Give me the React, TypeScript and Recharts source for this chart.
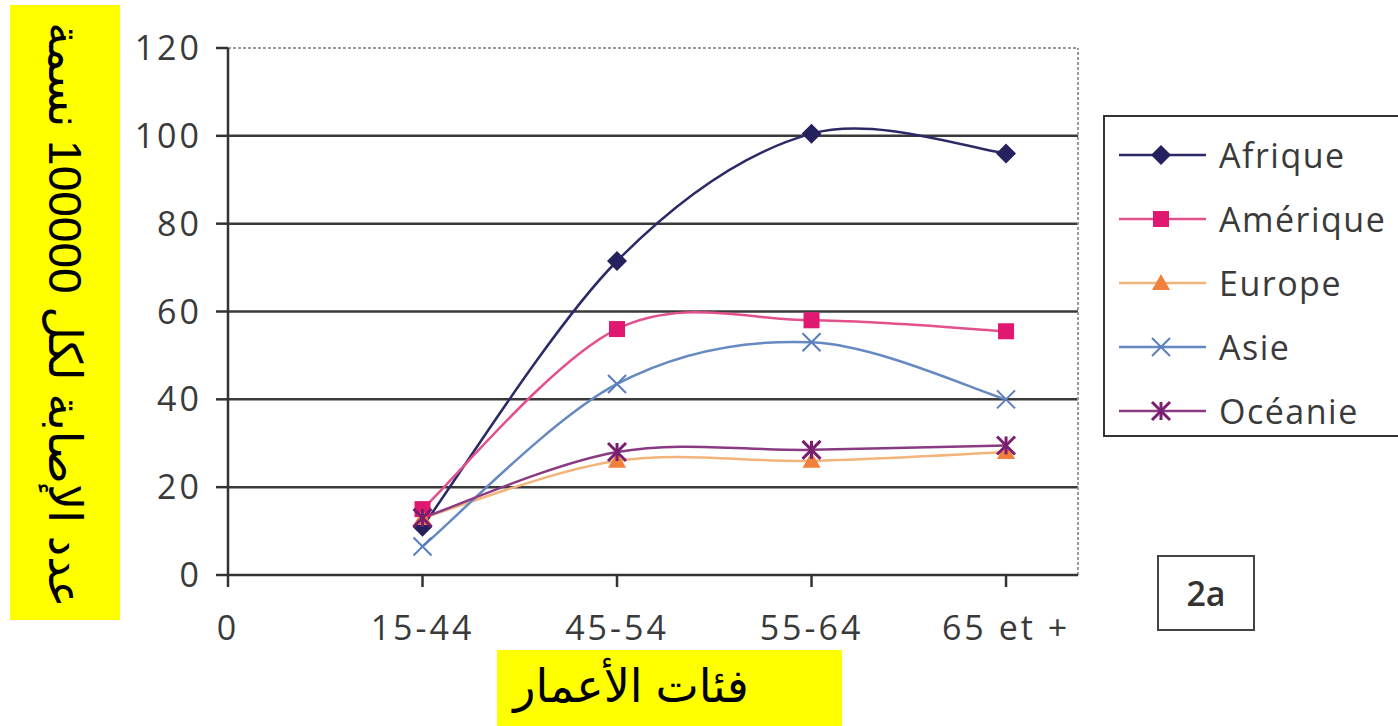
import { LineChart, Line, XAxis, YAxis, ReferenceLine } from "recharts";

const categories = ["0", "15-44", "45-54", "55-64", "65 et +"];
const yTicks = [0, 20, 40, 60, 80, 100, 120];
const gridValues = [20, 40, 60, 80, 100];

const afrique = [11, 71.5, 100.5, 96];
const amerique = [15, 56, 58, 55.5];
const europe = [13, 26, 26, 28];
const asie = [6.5, 43.5, 53, 40];
const oceanie = [13, 28, 28.5, 29.5];

const X_MAX = 4.37;

const series = [
  { key: "afrique", name: "Afrique", line: "#2b2a66", marker: "#25215f", shape: "diamond" },
  { key: "amerique", name: "Amérique", line: "#e2508d", marker: "#e0186f", shape: "square" },
  { key: "europe", name: "Europe", line: "#f3b47c", marker: "#f0803c", shape: "triangle" },
  { key: "asie", name: "Asie", line: "#6689c2", marker: "#5a7dbf", shape: "cross" },
  { key: "oceanie", name: "Océanie", line: "#8a3a82", marker: "#7a1f6f", shape: "star" },
];

const data = categories.slice(1).map((c, i) => ({
  x: i + 1,
  label: c,
  afrique: afrique[i],
  amerique: amerique[i],
  europe: europe[i],
  asie: asie[i],
  oceanie: oceanie[i],
}));

// Excel-like smoothing (Catmull-Rom through the points)
function smoothCurve(context: any) {
  let pts: number[][] = [];
  return {
    areaStart() {},
    areaEnd() {},
    lineStart() {
      pts = [];
    },
    point(x: number, y: number) {
      pts.push([+x, +y]);
    },
    lineEnd() {
      if (!pts.length) return;
      context.moveTo(pts[0][0], pts[0][1]);
      for (let i = 0; i < pts.length - 1; i++) {
        const p0 = pts[i - 1] || pts[i];
        const p1 = pts[i];
        const p2 = pts[i + 1];
        const p3 = pts[i + 2] || p2;
        context.bezierCurveTo(
          p1[0] + (p2[0] - p0[0]) / 6,
          p1[1] + (p2[1] - p0[1]) / 6,
          p2[0] - (p3[0] - p1[0]) / 6,
          p2[1] - (p3[1] - p1[1]) / 6,
          p2[0],
          p2[1]
        );
      }
    },
  };
}

function Marker({ cx, cy, shape, color }: { cx: number; cy: number; shape: string; color: string }) {
  if (cx == null || cy == null) return null;
  if (shape === "diamond") {
    const r = 10;
    return <polygon points={`${cx},${cy - r} ${cx + r},${cy} ${cx},${cy + r} ${cx - r},${cy}`} fill={color} />;
  }
  if (shape === "square") {
    return <rect x={cx - 8} y={cy - 8} width={16} height={16} fill={color} />;
  }
  if (shape === "triangle") {
    return <polygon points={`${cx},${cy - 9} ${cx + 9},${cy + 7} ${cx - 9},${cy + 7}`} fill={color} />;
  }
  if (shape === "cross") {
    const r = 9;
    return (
      <g stroke={color} strokeWidth={2}>
        <line x1={cx - r} y1={cy - r} x2={cx + r} y2={cy + r} />
        <line x1={cx - r} y1={cy + r} x2={cx + r} y2={cy - r} />
      </g>
    );
  }
  const r = 9;
  return (
    <g stroke={color} strokeWidth={3}>
      <line x1={cx - r} y1={cy - r} x2={cx + r} y2={cy + r} />
      <line x1={cx - r} y1={cy + r} x2={cx + r} y2={cy - r} />
      <line x1={cx} y1={cy - r} x2={cx} y2={cy + r} />
    </g>
  );
}

const tickStyle = { fill: "#3a3a3a", fontSize: 34, fontFamily: "Open Sans", letterSpacing: 3 };

export default function App() {
  return (
    <div style={{ position: "absolute", left: 0, top: 0, width: 1398, height: 726, overflow: "hidden", background: "#fff" }}>
      <LineChart width={1398} height={726} data={data} margin={{ top: 48, right: 320, left: 128, bottom: 91 }}>
        <XAxis
          type="number"
          dataKey="x"
          domain={[0, X_MAX]}
          ticks={[0, 1, 2, 3, 4]}
          tickFormatter={(v: number) => categories[v]}
          tick={tickStyle}
          tickSize={12}
          tickMargin={29}
          height={60}
          stroke="#333"
          strokeWidth={2.5}
          allowDataOverflow
        />
        <YAxis
          type="number"
          domain={[0, 120]}
          ticks={yTicks}
          tick={tickStyle}
          tickSize={12}
          tickMargin={14}
          width={100}
          stroke="#333"
          strokeWidth={2.5}
        />
        {gridValues.map((v) => (
          <ReferenceLine key={v} y={v} stroke="#3a3a3a" strokeWidth={2.5} />
        ))}
        <ReferenceLine y={120} stroke="#9a9a9a" strokeWidth={2} strokeDasharray="3 2" />
        <ReferenceLine x={X_MAX} stroke="#9a9a9a" strokeWidth={2} strokeDasharray="3 2" />
        {series.map((s) => (
          <Line
            key={s.key}
            dataKey={s.key}
            name={s.name}
            type={smoothCurve as any}
            stroke={s.line}
            strokeWidth={2.5}
            isAnimationActive={false}
            dot={(p: any) => <Marker key={`${s.key}-${p.index}`} cx={p.cx} cy={p.cy} shape={s.shape} color={s.marker} />}
            activeDot={false}
          />
        ))}
      </LineChart>

      {/* legend */}
      <div
        style={{
          position: "absolute",
          left: 1103,
          top: 115,
          width: 300,
          height: 322,
          border: "2px solid #333",
          boxSizing: "border-box",
          background: "#fff",
        }}
      >
        {series.map((s, i) => (
          <div key={s.key} style={{ position: "absolute", left: 0, top: 8 + i * 64, height: 60, display: "flex", alignItems: "center" }}>
            <svg width={110} height={40} style={{ display: "block" }}>
              <line x1={14} y1={20} x2={101} y2={20} stroke={s.line} strokeWidth={2.5} />
              <Marker cx={56} cy={20} shape={s.shape} color={s.marker} />
            </svg>
            <span style={{ fontFamily: "Open Sans", fontSize: 34, color: "#3a3a3a", letterSpacing: 1.5, marginLeft: 4 }}>{s.name}</span>
          </div>
        ))}
      </div>

      {/* 2a box */}
      <div
        style={{
          position: "absolute",
          left: 1157,
          top: 555,
          width: 98,
          height: 76,
          border: "2px solid #444",
          boxSizing: "border-box",
          display: "flex",
          alignItems: "center",
          justifyContent: "center",
          fontFamily: "Open Sans",
          fontWeight: 600,
          fontSize: 34,
          color: "#333",
        }}
      >
        2a
      </div>

      {/* y axis title */}
      <div style={{ position: "absolute", left: 10, top: 5, width: 110, height: 615, background: "#ffff00" }}>
        <div
          style={{
            position: "absolute",
            left: 55,
            top: 310,
            transform: "translate(-50%, -50%) rotate(90deg)",
            whiteSpace: "nowrap",
            fontFamily: "'Liberation Sans', 'DejaVu Sans'",
            fontSize: 46,
            color: "#000",
            direction: "rtl",
          }}
        >
          عدد الإصابة لكل 100000 نسمة
        </div>
      </div>

      {/* x axis title */}
      <div
        style={{
          position: "absolute",
          left: 497,
          top: 650,
          width: 345,
          height: 76,
          background: "#ffff00",
        }}
      >
        <div
          style={{
            position: "absolute",
            left: 134,
            top: 36,
            transform: "translate(-50%, -50%)",
            whiteSpace: "nowrap",
            fontFamily: "'Liberation Sans', 'DejaVu Sans'",
            fontSize: 46,
            color: "#000",
            direction: "rtl",
          }}
        >
          فئات الأعمار
        </div>
      </div>
    </div>
  );
}
